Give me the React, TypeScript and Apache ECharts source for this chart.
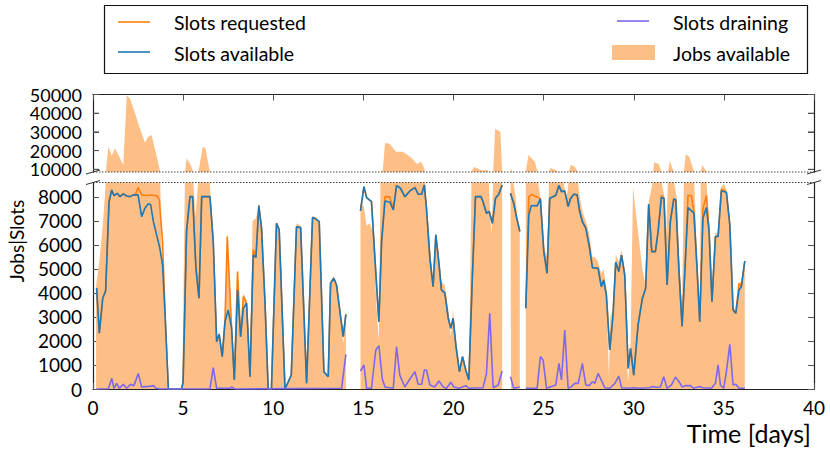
import React, { useEffect, useRef } from 'react';
import * as echarts from 'echarts';

const FONT = 'Lato, "DejaVu Sans", sans-serif';

const xTickValues = [0, 5, 10, 15, 20, 25, 30, 35, 40];
const topTickValues = [10000, 20000, 30000, 40000, 50000];
const bottomTickValues = [0, 1000, 2000, 3000, 4000, 5000, 6000, 7000, 8000];

const legendNames = ['Slots requested', 'Slots available', 'Slots draining', 'Jobs available'];

// [time in days, slots]
const slotsAvailable: [number, number | null][] = [
  [0.2, 4200], [0.35, 2320], [0.54, 3780], [0.7, 4080], [0.89, 7800], [1.04, 8290], [1.16, 8060], [1.35, 8150],
  [1.5, 8010], [1.68, 8125], [1.87, 8040], [2.05, 8010], [2.24, 8085], [2.5, 8085], [2.7, 7180], [2.88, 7530],
  [3.07, 7720], [3.2, 7670], [3.35, 6970], [3.53, 6420], [3.71, 5860], [3.86, 5170], [4.0, 3080], [4.18, 0],
  [4.92, 0], [5.0, 300], [5.19, 6560], [5.38, 8010], [5.53, 8010], [5.71, 5030], [5.88, 3780], [6.03, 8010],
  [6.49, 8010], [6.67, 6140], [6.86, 1970], [7.0, 2280], [7.17, 1350], [7.32, 2800], [7.5, 3290], [7.69, 2530],
  [7.84, 375], [8.02, 4125], [8.19, 2180], [8.34, 3360], [8.52, 3570], [8.71, 510], [8.89, 5580], [9.04, 5470],
  [9.2, 7640], [9.35, 6700], [9.54, 3640], [9.72, 0], [9.9, 0], [10.18, 6900], [10.33, 6630], [10.65, 0],
  [11.0, 580], [11.29, 6760], [11.52, 6720], [11.85, 240], [12.18, 7140], [12.37, 7080], [12.55, 6970], [12.81, 720],
  [13.05, 510], [13.18, 4400], [13.36, 4610], [13.51, 4330], [13.7, 3220], [13.88, 2180], [14.03, 3110], [14.4, null],
  [14.84, 7420], [15.03, 8430], [15.18, 7970], [15.45, 7800], [15.64, 5440], [15.86, 2800], [16.01, 6140], [16.2, 7830],
  [16.47, 7780], [16.66, 7460], [16.84, 8470], [17.06, 8360], [17.3, 8010], [17.58, 8250], [17.86, 8390], [18.04, 8110],
  [18.23, 8110], [18.38, 8500], [18.5, 7530], [18.69, 5440], [18.87, 4260], [19.02, 6420], [19.19, 5240], [19.33, 4125],
  [19.52, 3990], [19.71, 2945], [19.85, 2530], [19.98, 2945], [20.13, 1830], [20.33, 720], [20.5, 1350], [20.68, 790],
  [20.85, 375], [21.05, 4750], [21.22, 8010], [21.52, 8010], [21.64, 7800], [21.83, 7320], [21.98, 7390], [22.16, 6900],
  [22.33, 7945], [22.51, 8110], [22.7, 8500], [22.9, null], [23.16, 8150], [23.34, 7740], [23.49, 7180], [23.68, 6560],
  [23.85, null], [24.01, 3360], [24.18, 7250], [24.32, 7640], [24.64, 7625], [24.82, 7920], [25.01, 5720], [25.19, 4820],
  [25.34, 7945], [25.67, 8060], [25.85, 8470], [25.99, 8220], [26.17, 8250], [26.36, 7600], [26.49, 7920], [26.67, 8110],
  [26.86, 8085], [27.0, 7390], [27.15, 6970], [27.34, 6700], [27.52, 6000], [27.71, 5055], [28.02, 5030], [28.2, 4260],
  [28.33, 4540], [28.48, 3920], [28.67, 1625], [28.85, 3080], [29.0, 5280], [29.17, 4890], [29.32, 5580], [29.5, 4750],
  [29.69, 860], [29.82, 1690], [30.0, 580], [30.24, 2670], [30.48, 3780], [30.66, 4195], [30.83, 7695], [31.0, 5720],
  [31.2, 5720], [31.35, 6560], [31.53, 7970], [31.68, 7945], [31.85, 4330], [32.03, 6970], [32.22, 7920], [32.33, 7875],
  [32.51, 4890], [32.68, 2600], [32.87, 5440], [33.01, 7555], [33.2, 7420], [33.34, 7320], [33.51, 5030], [33.66, 2800],
  [33.84, 7110], [34.03, 7555], [34.18, 6560], [34.34, 3640], [34.53, 6350], [34.68, 6350], [34.86, 8250], [35.14, 8195],
  [35.33, 6830], [35.51, 3290], [35.66, 3150], [35.84, 4125], [35.97, 4260], [36.16, 5330],
];

const slotsRequested: [number, number | null][] = [
  [0.2, 4200], [0.35, 2320], [0.54, 3780], [0.7, 4080], [0.89, 7800], [1.04, 8290], [1.16, 8060], [1.35, 8150],
  [1.5, 8010], [1.68, 8125], [1.87, 8040], [2.05, 8010], [2.24, 8085], [2.35, 8100], [2.5, 8390], [2.7, 8085],
  [2.88, 8060], [3.07, 8060], [3.2, 8080], [3.35, 8060], [3.53, 8060], [3.68, 7875], [3.86, 6140], [4.0, 3080], [4.18, 0],
  [4.92, 0], [5.0, 300], [5.19, 6560], [5.38, 8010], [5.53, 8010], [5.71, 5030], [5.88, 3780], [6.03, 8010],
  [6.49, 8010], [6.67, 6140], [6.86, 1970], [7.0, 2280], [7.17, 1350], [7.32, 2800], [7.45, 6350], [7.69, 2530],
  [7.84, 375], [8.02, 4890], [8.19, 2180], [8.34, 3850], [8.52, 3570], [8.71, 510], [8.89, 5800], [9.04, 5470],
  [9.2, 7640], [9.35, 6700], [9.54, 3640], [9.72, 0], [9.9, 0], [10.18, 6900], [10.33, 6630], [10.65, 0],
  [11.0, 580], [11.29, 6760], [11.52, 6720], [11.85, 240], [12.18, 7140], [12.37, 7080], [12.55, 6970], [12.81, 720],
  [13.05, 510], [13.18, 4400], [13.36, 4610], [13.51, 4330], [13.7, 3220], [13.88, 2180], [14.03, 3110], [14.4, null],
  [14.84, 7420], [15.03, 8430], [15.18, 7970], [15.45, 7800], [15.64, 5440], [15.86, 2800], [16.01, 6140], [16.2, 8010],
  [16.47, 8000], [16.66, 7460], [16.84, 8470], [17.06, 8360], [17.3, 8010], [17.58, 8250], [17.86, 8390], [18.04, 8110],
  [18.23, 8110], [18.38, 8500], [18.5, 7530], [18.69, 5440], [18.87, 4260], [19.02, 6420], [19.19, 5240], [19.33, 4125],
  [19.52, 3990], [19.71, 2945], [19.85, 2530], [19.98, 2945], [20.13, 1830], [20.33, 720], [20.5, 1350], [20.68, 790],
  [20.85, 375], [21.05, 4750], [21.22, 8010], [21.52, 8010], [21.64, 7800], [21.83, 7320], [21.98, 7390], [22.16, 6900],
  [22.33, 7945], [22.51, 8110], [22.7, 8500], [22.9, null], [23.16, 8150], [23.34, 7740], [23.49, 7180], [23.68, 6560],
  [23.85, null], [24.01, 3360], [24.18, 8000], [24.32, 8100], [24.64, 8000], [24.82, 7920], [25.01, 5720], [25.19, 4820],
  [25.34, 7945], [25.67, 8060], [25.85, 8470], [25.99, 8220], [26.17, 8250], [26.36, 7600], [26.49, 7920], [26.67, 8110],
  [26.86, 8085], [27.0, 7390], [27.15, 6970], [27.34, 6700], [27.52, 6000], [27.71, 5055], [28.02, 5030], [28.2, 4260],
  [28.33, 4540], [28.48, 3920], [28.67, 1625], [28.85, 3080], [29.0, 5280], [29.17, 4890], [29.32, 5580], [29.5, 4750],
  [29.69, 860], [29.82, 1690], [30.0, 580], [30.24, 2670], [30.48, 3780], [30.66, 4195], [30.83, 7695], [31.0, 5720],
  [31.2, 5720], [31.35, 6560], [31.53, 8050], [31.68, 7945], [31.85, 4330], [32.03, 6970], [32.22, 7920], [32.33, 7875],
  [32.51, 4890], [32.68, 2600], [32.87, 5440], [33.01, 8060], [33.2, 8060], [33.34, 7320], [33.51, 5030], [33.66, 2800],
  [33.84, 7500], [34.03, 8060], [34.18, 6560], [34.34, 3640], [34.53, 6350], [34.68, 6350], [34.86, 8330], [35.14, 8195],
  [35.33, 6830], [35.51, 3290], [35.66, 3150], [35.84, 4400], [35.97, 4260], [36.16, 5330],
];

const slotsDraining: [number, number | null][] = [
  [0.2, 0], [0.85, 0], [1.04, 445], [1.16, 30], [1.31, 236], [1.46, 30], [1.68, 195], [1.87, 30], [2.09, 195],
  [2.27, 140], [2.51, 650], [2.7, 85], [2.88, 100], [3.16, 110], [3.35, 140], [3.5, 30], [3.71, 0], [6.49, 0],
  [6.67, 890], [6.86, 30], [7.6, 30], [7.69, 85], [7.87, 0], [13.79, 30], [14.03, 1445], [14.4, null],
  [14.84, 750], [15.03, 1000], [15.18, 30], [15.45, 30], [15.69, 1625], [15.86, 1805], [16.05, 415], [16.2, 85],
  [16.66, 30], [16.84, 1765], [17.02, 580], [17.3, 85], [17.58, 415], [17.86, 720], [18.04, 195], [18.23, 195],
  [18.38, 790], [18.5, 790], [18.69, 165], [18.96, 85], [19.19, 330], [19.43, 85], [19.61, 30], [19.85, 280],
  [20.02, 85], [20.31, 30], [20.68, 140], [20.85, 30], [21.64, 55], [21.83, 650], [22.01, 3150], [22.2, 55],
  [22.48, 165], [22.7, 750], [22.9, null], [23.16, 515], [23.34, 30], [23.68, 85], [23.85, null], [24.01, 30],
  [24.64, 30], [24.82, 1350], [24.97, 1210], [25.16, 30], [25.67, 165], [25.85, 1070], [25.99, 375], [26.17, 2460],
  [26.36, 30], [26.54, 100], [26.73, 236], [26.92, 236], [27.15, 1070], [27.34, 165], [27.52, 140], [27.71, 305],
  [27.84, 236], [28.02, 650], [28.2, 375], [28.39, 55], [28.67, 30], [28.95, 236], [29.17, 540], [29.32, 55],
  [29.69, 30], [30.0, 55], [30.34, 30], [30.89, 55], [31.04, 100], [31.26, 70], [31.48, 85], [31.66, 514],
  [31.85, 30], [32.09, 165], [32.31, 500], [32.51, 305], [32.68, 85], [32.87, 140], [33.14, 140], [33.33, 30],
  [33.66, 100], [33.84, 55], [34.31, 30], [34.53, 236], [34.68, 1000], [34.81, 165], [34.99, 30], [35.14, 720],
  [35.33, 1860], [35.51, 165], [35.66, 195], [35.84, 30], [36.16, 30],
];

// [time in days, jobs]
const jobsAvailable: [number, number | null][] = [
  [0.17, 4300], [0.35, 5300], [0.54, 6800], [0.72, 8700], [0.85, 22100], [1.04, 17300], [1.22, 21200], [1.46, 16700],
  [1.68, 12300], [1.87, 49400], [2.05, 48000], [2.33, 40000], [2.6, 31900], [2.88, 24400], [3.07, 27400], [3.25, 28300],
  [3.49, 18600], [3.72, 9100], [3.8, 6000], [3.92, 4000], [4.02, 2000], [4.12, 0], [4.95, 0], [5.1, 8700],
  [5.2, 15900], [5.42, 12300], [5.56, 8700], [5.68, 7200], [5.85, 8700], [6.09, 22100], [6.24, 21200], [6.48, 8700],
  [6.6, 6500], [6.75, 3500], [6.86, 2100], [7.0, 2400], [7.17, 1500], [7.32, 3000], [7.45, 6600], [7.69, 2600],
  [7.84, 500], [8.02, 5000], [8.19, 2300], [8.34, 4000], [8.52, 3700], [8.71, 600], [8.85, 7000], [9.04, 7100],
  [9.2, 7700], [9.35, 6800], [9.54, 3700], [9.72, 0], [9.9, 0], [10.18, 7000], [10.33, 6700], [10.65, 0],
  [11.0, 600], [11.29, 6900], [11.52, 6800], [11.85, 250], [12.18, 7200], [12.37, 7150], [12.55, 7000], [12.81, 750],
  [13.05, 520], [13.18, 4500], [13.36, 4700], [13.51, 4400], [13.7, 3200], [13.88, 1900], [14.03, 3150], [14.4, null],
  [14.84, 7700], [15.03, 7600], [15.18, 6800], [15.35, 6900], [15.55, 6500], [15.73, 3400], [15.86, 2000], [15.95, 8700],
  [16.08, 9500], [16.2, 23900], [16.43, 23800], [16.82, 19400], [17.17, 19400], [17.46, 17600], [17.76, 15300], [17.96, 12800],
  [18.2, 14000], [18.34, 11300], [18.43, 8700], [18.5, 7600], [18.69, 6000], [18.87, 4300], [19.02, 6500], [19.19, 5500],
  [19.33, 4500], [19.52, 4300], [19.71, 3300], [19.85, 2200], [19.98, 3300], [20.13, 1800], [20.33, 700], [20.5, 1400],
  [20.68, 800], [20.85, 400], [21.0, 8700], [21.13, 11300], [21.43, 10000], [21.63, 9300], [21.87, 9700], [21.95, 8700],
  [22.05, 7000], [22.12, 6500], [22.2, 8700], [22.31, 31700], [22.6, 29900], [22.7, 8700], [22.9, null], [23.16, 9500],
  [23.19, 10000], [23.3, 8700], [23.45, 8000], [23.55, 7000], [23.68, 6500], [23.85, null], [24.01, 8700], [24.16, 17600],
  [24.51, 14000], [24.67, 8700], [24.82, 8000], [25.0, 6000], [25.19, 5500], [25.3, 8700], [25.39, 10700], [25.63, 9800],
  [25.8, 8700], [26.1, 8700], [26.25, 7800], [26.4, 8700], [26.51, 12500], [26.72, 11400], [26.9, 8700], [27.0, 8000],
  [27.15, 7400], [27.34, 7000], [27.52, 6500], [27.71, 5500], [27.84, 5500], [28.02, 5300], [28.2, 4800], [28.33, 5000],
  [28.48, 4200], [28.62, 500], [28.7, 3000], [28.85, 3300], [29.0, 5600], [29.17, 5300], [29.32, 5800], [29.5, 5000],
  [29.62, 1200], [29.69, 300], [29.82, 1800], [29.96, 8400], [30.2, 6800], [30.48, 5000], [30.66, 4300], [30.83, 7800],
  [31.08, 8700], [31.13, 13700], [31.4, 12800], [31.52, 8700], [31.68, 8100], [31.8, 6500], [31.9, 8700], [32.0, 14400],
  [32.22, 8700], [32.4, 7900], [32.51, 5500], [32.68, 3500], [32.78, 8700], [32.89, 18000], [33.07, 16800], [33.35, 8700],
  [33.51, 5500], [33.66, 3000], [33.72, 8700], [33.81, 12300], [34.03, 8700], [34.18, 7000], [34.34, 4000], [34.53, 6500],
  [34.68, 6500], [34.86, 8400], [35.0, 8550], [35.14, 8300], [35.33, 7000], [35.51, 3400], [35.66, 3300], [35.84, 4400],
  [35.97, 4500], [36.16, 5400],
];

const COLORS = {
  requested: '#ff7f0e',
  available: '#1f77b4',
  draining: '#7b68ee',
  jobs: '#fdbf86',
};

const axisLineStyle = { color: '#222', width: 1.2 };
const tickStyle = { color: '#555', width: 1 };
const plain = (v: number) => String(v);

export default function App() {
  const ref = useRef<HTMLDivElement>(null);

  useEffect(() => {
    if (!ref.current) return;
    const chart = echarts.init(ref.current, undefined, { renderer: 'svg' });

    const L = 93;
    const R = 814;
    const topY0 = 94.5;
    const topY1 = 172;
    const botY0 = 182.5;
    const botY1 = 389;

    const lineSeries = (name: string, data: any, color: string, z: number) => ({
      name,
      type: 'line',
      xAxisIndex: 1,
      yAxisIndex: 2,
      data,
      symbol: 'none',
      showSymbol: false,
      z,
      lineStyle: { color, width: 1.6 },
      itemStyle: { color },
    });

    const areaSeries = (xi: number, yi: number) => ({
      name: 'Jobs available',
      type: 'line',
      xAxisIndex: xi,
      yAxisIndex: yi,
      data: jobsAvailable,
      symbol: 'none',
      showSymbol: false,
      z: 1,
      lineStyle: { width: 0, color: COLORS.jobs },
      itemStyle: { color: COLORS.jobs },
      areaStyle: { color: COLORS.jobs, opacity: 1 },
    });

    const yAxisCommon = (gridIndex: number, position: string, min: number, max: number, ticks: number[], labels: boolean) => ({
      type: 'value',
      gridIndex,
      position,
      min,
      max,
      axisLine: { show: true, onZero: false, lineStyle: axisLineStyle },
      axisTick: { show: true, inside: true, length: 6, interval: 0, lineStyle: tickStyle, customValues: ticks },
      axisLabel: {
        show: labels,
        customValues: ticks,
        interval: 0,
        formatter: plain,
        showMinLabel: true,
        showMaxLabel: true,
        fontFamily: FONT,
        fontSize: 19,
        color: '#000',
        margin: 11,
      },
      splitLine: { show: false },
    });

    const breakMark = (x: number, y: number) => ({
      type: 'line',
      shape: { x1: x - 7, y1: y + 2, x2: x + 7, y2: y - 2 },
      style: { stroke: '#333', lineWidth: 1 },
      z: 100,
    });

    const legendFont = `19.5px ${FONT}`;

    const baseGraphic: any[] = [
      {
        type: 'rect',
        shape: { x: 104.5, y: 5.5, width: 703, height: 68 },
        style: { fill: '#fff', stroke: '#111', lineWidth: 1.2 },
        z: 50,
      },
      { type: 'line', shape: { x1: 118, y1: 22, x2: 150, y2: 22 }, style: { stroke: COLORS.requested, lineWidth: 1.6 }, z: 51 },
      { type: 'line', shape: { x1: 118, y1: 52, x2: 150, y2: 52 }, style: { stroke: COLORS.available, lineWidth: 1.6 }, z: 51 },
      { type: 'line', shape: { x1: 617, y1: 21, x2: 649, y2: 21 }, style: { stroke: COLORS.draining, lineWidth: 1.6 }, z: 51 },
      { type: 'rect', shape: { x: 612, y: 45, width: 43, height: 15 }, style: { fill: COLORS.jobs }, z: 51 },
      { type: 'text', x: 174, y: 22, style: { text: legendNames[0], font: legendFont, fill: '#000', verticalAlign: 'middle' }, z: 51 },
      { type: 'text', x: 174, y: 53, style: { text: legendNames[1], font: legendFont, fill: '#000', verticalAlign: 'middle' }, z: 51 },
      { type: 'text', x: 673, y: 22, style: { text: legendNames[2], font: legendFont, fill: '#000', verticalAlign: 'middle' }, z: 51 },
      { type: 'text', x: 673, y: 53, style: { text: legendNames[3], font: legendFont, fill: '#000', verticalAlign: 'middle' }, z: 51 },
      { type: 'line', shape: { x1: L, y1: topY1, x2: R, y2: topY1 }, style: { stroke: '#444', lineWidth: 1, lineDash: [1.5, 1.5] }, z: 60 },
      { type: 'line', shape: { x1: L, y1: botY0, x2: R, y2: botY0 }, style: { stroke: '#444', lineWidth: 1, lineDash: [1.5, 1.5] }, z: 60 },
      breakMark(L, topY1),
      breakMark(L, botY0),
      breakMark(R, topY1),
      breakMark(R, botY0),
      {
        type: 'text', x: 811, y: 433,
        style: { text: 'Time [days]', font: `25px ${FONT}`, fill: '#000', align: 'right', verticalAlign: 'middle' },
      },
      {
        type: 'text', x: 16, y: 241, rotation: Math.PI / 2,
        style: { text: 'Jobs|Slots', font: `19px ${FONT}`, fill: '#000', align: 'center', verticalAlign: 'middle' },
      },
    ];

    const option: any = {
      animation: false,
      textStyle: { fontFamily: FONT },
      grid: [
        { left: L, top: topY0, width: R - L, height: topY1 - topY0 },
        { left: L, top: botY0, width: R - L, height: botY1 - botY0 },
      ],
      xAxis: [
        {
          type: 'value', gridIndex: 0, position: 'top', min: 0, max: 40, interval: 5,
          axisLine: { show: true, onZero: false, lineStyle: axisLineStyle },
          axisTick: { show: true, inside: true, length: 6, lineStyle: tickStyle, customValues: xTickValues },
          axisLabel: { show: false },
          splitLine: { show: false },
        },
        {
          type: 'value', gridIndex: 1, position: 'bottom', min: 0, max: 40, interval: 5,
          axisLine: { show: true, onZero: false, lineStyle: axisLineStyle },
          axisTick: { show: true, inside: true, length: 6, lineStyle: tickStyle, customValues: xTickValues },
          axisLabel: {
            customValues: xTickValues, formatter: plain, showMinLabel: true, showMaxLabel: true,
            fontFamily: FONT, fontSize: 19, color: '#000', margin: 9,
          },
          splitLine: { show: false },
        },
      ],
      yAxis: [
        // top panel labels are placed from the axis scale below (the axis auto-hides dense labels)
        yAxisCommon(0, 'left', 8560, 50000, topTickValues, false),
        yAxisCommon(0, 'right', 8560, 50000, topTickValues, false),
        yAxisCommon(1, 'left', 0, 8600, bottomTickValues, true),
        yAxisCommon(1, 'right', 0, 8600, bottomTickValues, false),
      ],
      series: [
        areaSeries(0, 0),
        areaSeries(1, 2),
        lineSeries('Slots requested', slotsRequested, COLORS.requested, 2),
        lineSeries('Slots available', slotsAvailable, COLORS.available, 3),
        lineSeries('Slots draining', slotsDraining, COLORS.draining, 4),
      ],
      graphic: baseGraphic,
    };

    chart.setOption(option);

    // top-panel tick labels and ticks positioned through the axis scale
    const topLabels: any[] = [];
    topTickValues.forEach((v) => {
      const py = chart.convertToPixel({ yAxisIndex: 0 } as any, v) as unknown as number;
      topLabels.push({
        type: 'text', x: L - 11, y: py,
        style: { text: plain(v), font: `18px ${FONT}`, lineHeight: 16, fill: '#000', align: 'right', verticalAlign: 'middle' },
        z: 70,
      });
      topLabels.push({ type: 'line', shape: { x1: L, y1: py, x2: L + 6, y2: py }, style: { stroke: '#555', lineWidth: 1 }, z: 70 });
      topLabels.push({ type: 'line', shape: { x1: R - 6, y1: py, x2: R, y2: py }, style: { stroke: '#555', lineWidth: 1 }, z: 70 });
    });
    chart.setOption({ graphic: [...baseGraphic, ...topLabels] }, { replaceMerge: ['graphic'] } as any);

    return () => chart.dispose();
  }, []);

  return (
    <div
      ref={ref}
      style={{ position: 'absolute', left: 0, top: 0, width: 830, height: 452, background: '#fff' }}
    />
  );
}
